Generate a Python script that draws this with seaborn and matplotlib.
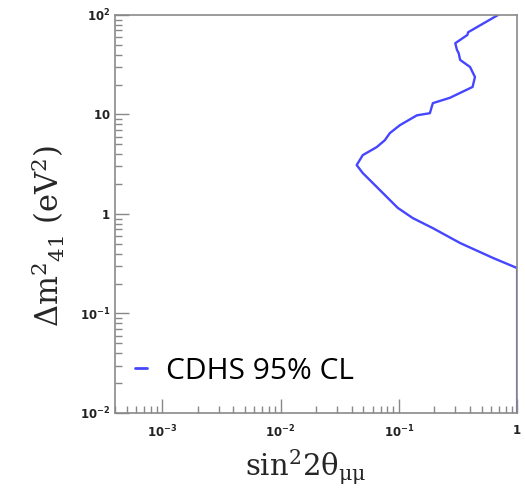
import matplotlib
matplotlib.use("Agg")
import matplotlib.pyplot as plt
import matplotlib.ticker as mticker
import seaborn as sns
import pandas as pd

# CDHS 95% CL exclusion contour
sin2_2theta = [0.69, 0.385, 0.38, 0.30, 0.31, 0.32, 0.33, 0.40, 0.44, 0.42, 0.27, 0.194,
               0.19, 0.183, 0.142, 0.102, 0.084, 0.076, 0.065, 0.0495, 0.044, 0.0495,
               0.065, 0.084, 0.098, 0.131, 0.194, 0.33, 0.63, 1.0, 1.0]
dm2_41 = [100, 67, 63, 52, 44.5, 41.5, 35.3, 30, 23.8, 18.9, 14.7, 13.0,
          12.0, 10.3, 9.8, 7.8, 6.5, 5.5, 4.7, 3.9, 3.1, 2.58,
          1.87, 1.38, 1.15, 0.91, 0.72, 0.51, 0.36, 0.286, 0.01]
series_label = "CDHS 95% CL"

x_ticks = [1e-3, 1e-2, 1e-1, 1]
x_ticklabels = [r"$\mathbf{10^{-3}}$", r"$\mathbf{10^{-2}}$", r"$\mathbf{10^{-1}}$", r"$\mathbf{1}$"]
y_ticks = [1e-2, 1e-1, 1, 10, 100]
y_ticklabels = [r"$\mathbf{10^{-2}}$", r"$\mathbf{10^{-1}}$", r"$\mathbf{1}$", r"$\mathbf{10}$", r"$\mathbf{10^{2}}$"]

sns.set_theme(style="white")
plt.rcParams["font.family"] = ["DejaVu Sans"]
plt.rcParams["mathtext.fontset"] = "dejavusans"

fig = plt.figure(figsize=(5.25, 4.92), dpi=100)
ax = fig.add_axes([0.219, 0.1606, 0.766, 0.809])

df = pd.DataFrame({"x": sin2_2theta, "y": dm2_41})
sns.lineplot(data=df, x="x", y="y", sort=False, estimator=None, ax=ax,
             color="#4646ff", linewidth=1.7, label=series_label)

ax.set_xscale("log")
ax.set_yscale("log")
ax.set_xlim(10 ** -3.4, 1)
ax.set_ylim(0.01, 100)

ax.set_xticks(x_ticks)
ax.set_xticklabels(x_ticklabels)
ax.set_yticks(y_ticks)
ax.set_yticklabels(y_ticklabels)
ax.xaxis.set_minor_locator(mticker.LogLocator(base=10, subs=range(2, 10), numticks=20))
ax.yaxis.set_minor_locator(mticker.LogLocator(base=10, subs=range(2, 10), numticks=20))
ax.xaxis.set_minor_formatter(mticker.NullFormatter())
ax.yaxis.set_minor_formatter(mticker.NullFormatter())

ax.tick_params(axis="both", which="major", direction="in", length=10, width=1,
               color="#888888", labelsize=8.5, labelcolor="#222222")
ax.tick_params(axis="x", which="major", pad=8)
ax.tick_params(axis="y", which="major", pad=3)
ax.tick_params(axis="both", which="minor", direction="in", length=5, width=1,
               color="#888888")
ax.tick_params(left=True, bottom=True, top=False, right=False, which="both")

for s in ax.spines.values():
    s.set_color("#8a8a8a")
    s.set_linewidth(1.2)

plt.rcParams["mathtext.default"] = "regular"
ax.set_xlabel("sin$^{2}$2θ$_{μμ}$", family="DejaVu Serif", fontsize=21,
              math_fontfamily="dejavuserif")
ax.set_ylabel("Δm$^{2}$$_{41}$ (eV$^{2}$)", family="DejaVu Serif", fontsize=22,
              math_fontfamily="dejavuserif")
ax.xaxis.set_label_coords(0.475, -0.088)
ax.yaxis.set_label_coords(-0.12, 0.445)

leg = ax.legend(loc="center left", bbox_to_anchor=(0.05, 0.105), frameon=False,
                borderpad=0, borderaxespad=0,
                handlelength=0.4, handletextpad=0.65,
                prop={"family": "Open Sans", "size": 21.5})
for t in leg.get_texts():
    t.set_color("black")
for line in leg.get_lines():
    line.set_linewidth(2.0)

fig.savefig("out.png", dpi=100)
